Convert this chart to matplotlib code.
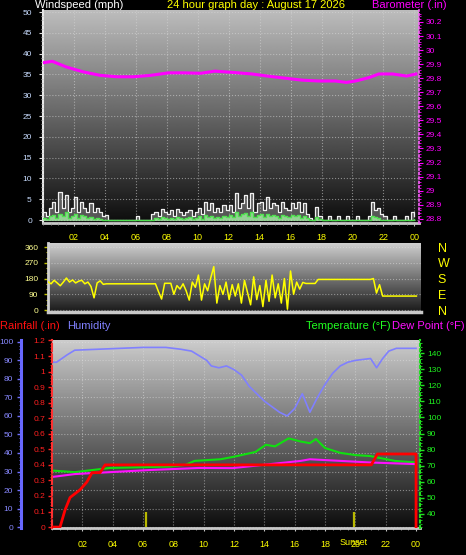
import numpy as np
import matplotlib
matplotlib.use("Agg")
import matplotlib.pyplot as plt

plt.rcParams['font.family'] = ['Liberation Sans', 'DejaVu Sans']

W, H = 466, 555

# ---------------- data ----------------
title_text = "24 hour graph day : August 17 2026"
hour_labels = ['02', '04', '06', '08', '10', '12', '14', '16', '18', '20', '22', '00']
hour_ticks = [2, 4, 6, 8, 10, 12, 14, 16, 18, 20, 22, 24]

sample_step_h = 0.2  # 12-minute samples from 00:00 to 24:00
wind_gust = [2, 1, 3, 4.4, 2, 6.8,
             3, 6, 2, 3, 5.6,
             2, 4.4, 3, 2, 4,
             2, 3, 2, 1, 1.2,
             0, 0, 0, 0, 0,
             0, 0, 0, 0, 1,
             0, 0, 0, 0, 1.5,
             2, 1, 2.7, 2, 1.5,
             2.5, 1, 2.7, 2, 1.2,
             2, 2.5, 1, 2, 3,
             1.5, 4.4, 2.5, 4, 2,
             3, 2, 3.5, 2.5, 3.6,
             2, 6.4, 3, 4, 6,
             3, 6.4, 2, 4, 4.4,
             2.5, 5.6, 3, 4, 3.6,
             2, 4.4, 3, 2.5, 4,
             3, 4.4, 2, 4, 1.5,
             0.6, 0, 3.2, 1, 0,
             0, 1, 0, 0, 1,
             0, 0, 1, 0, 0,
             1, 0, 0, 0, 1,
             4.4, 2.5, 3, 1.5, 1,
             0, 0, 1, 0, 0,
             0, 1, 0, 2, 1]
wind_avg = [0.5, 0.3, 1, 1.2, 0.5, 1.5,
            1, 2, 0.5, 1, 1.5,
            0.5, 1.2, 1, 0.5, 0.8,
            0.3, 0.5, 0.3, 0, 0,
            0, 0, 0, 0, 0,
            0, 0, 0, 0, 0,
            0, 0, 0, 0, 0,
            0.5, 0.3, 0.8, 0.5, 0.3,
            0.6, 0.2, 0.8, 0.5, 0.3,
            0.5, 0.8, 0.2, 0.5, 1,
            0.3, 1.2, 0.8, 1, 0.5,
            0.8, 0.5, 1, 0.7, 1.2,
            0.8, 2, 1, 1.5, 1.8,
            1, 2, 0.8, 1.2, 1.5,
            0.8, 1.5, 1, 1.2, 1,
            0.6, 1.2, 1, 0.8, 1.2,
            1, 1.2, 0.6, 1, 0.5,
            0, 0, 0.8, 0.2, 0,
            0, 0, 0, 0, 0,
            0, 0, 0, 0, 0,
            0, 0, 0, 0, 0,
            1, 0.8, 0.5, 0, 0,
            0, 0, 0, 0, 0,
            0, 0, 0, 0, 0.3]
wind_dir = [162, 150, 170, 155, 139, 160,
            183, 160, 172, 155, 165,
            170, 150, 160, 135, 70,
            155, 167, 147, 150, 150,
            150, 150, 150, 150, 150,
            150, 150, 150, 150, 150,
            150, 150, 150, 150, 150,
            105, 63, 153, 153, 153,
            90, 140, 120, 150, 110,
            57, 160, 130, 200, 57,
            150, 110, 183, 248, 40,
            140, 90, 160, 60, 145,
            80, 150, 40, 170, 100,
            30, 190, 60, 140, 20,
            170, 50, 200, 70, 150,
            40, 180, 5, 223, 90,
            160, 120, 158, 152, 152,
            152, 152, 175, 175, 175,
            175, 175, 175, 175, 175,
            175, 175, 175, 175, 175,
            175, 175, 175, 175, 175,
            180, 97, 145, 80, 80,
            80, 80, 80, 80, 80,
            80, 80, 80, 80, 80]

baro_hours = [0, 0.6, 1.5, 2.6, 3.7, 4.8, 5.85, 6.95, 8.1, 9.1, 10.2, 11.1, 12.4,
              13.5, 14.5, 15.65, 16.75, 17.8, 18.9, 19.6, 20.2, 21.1, 21.7, 22.6, 23.5, 24.1]
baro_vals = [29.91, 29.92, 29.88, 29.845, 29.82, 29.81, 29.81, 29.82, 29.838, 29.838, 29.835,
             29.85, 29.84, 29.83, 29.815, 29.80, 29.786, 29.78, 29.78, 29.77, 29.78, 29.805,
             29.83, 29.83, 29.815, 29.83]

hum_hours = [0, 0.3, 1.0, 1.5, 3, 4.5, 6, 7.5, 8.5, 9.2, 9.8, 10.2, 10.5, 11, 11.5, 12, 12.5,
             13, 13.5, 14, 14.5, 15, 15.5, 16, 16.5, 17, 17.5, 18, 18.5, 19, 19.5, 20, 20.5,
             21, 21.4, 21.8, 22.2, 22.7, 24]
hum_vals = [89, 89, 93, 95.5, 96, 96.5, 97, 97, 96, 95, 92, 90, 87, 86, 87, 85, 82,
            76, 72, 68, 65, 62, 60, 64, 72, 62, 70, 77, 83, 87, 89, 90, 90.5,
            91, 86, 91, 95, 96.5, 96.5]

temp_hours = [0, 1.5, 3.8, 7.8, 8.8, 9.4, 11.1, 11.9, 13.4, 14.1, 14.7, 15.6, 16.4, 17.0,
              17.4, 18.0, 19.0, 20.0, 21.0, 21.5, 22.6, 24]
temp_vals = [67, 66, 68.6, 69.5, 70.5, 73, 74, 75.4, 78.5, 83, 82, 87, 85, 84,
             86.6, 81, 78, 76.6, 76, 75, 73, 72]

dew_hours = [0, 1.5, 3.8, 6.4, 9.7, 11.9, 14.4, 16.4, 17.0, 19.0, 21.0, 24]
dew_vals = [63, 64.8, 66, 67.3, 68.6, 68.5, 71, 73, 74, 73, 72, 71]

rain_hours = [0, 0.53, 0.86, 1.19, 1.85, 2.3, 2.64, 3.17, 3.5, 21.05, 21.45, 24.0, 24.0]
rain_vals = [0, 0, 0.11, 0.19, 0.24, 0.29, 0.35, 0.35, 0.40, 0.40, 0.47, 0.47, 0]

sun_event_hours = [6.2, 19.9]
sun_event_height = 0.1

# ---------------- helpers ----------------
def rect(x0, y0, x1, y1):
    return [x0 / W, 1 - y1 / H, (x1 - x0) / W, (y1 - y0) / H]


def gradient(ax, top, bottom):
    g = np.linspace(top, bottom, 256).reshape(-1, 1)
    ax.imshow(g, cmap='gray', vmin=0, vmax=1, aspect='auto', extent=(0, 1, 0, 1),
              transform=ax.transAxes, origin='upper', zorder=0, interpolation='bilinear')


def ftext(x, y, s, **kw):
    fig.text(x / W, 1 - y / H, s, **kw)


fig = plt.figure(figsize=(W / 100, H / 100), dpi=100, facecolor='black')

n = len(wind_gust)
t = np.arange(n) * sample_step_h

# ---------------- top panel: wind + barometer ----------------
ax1 = fig.add_axes(rect(43, 10, 419, 223))
ax1.set_facecolor('black')
gradient(ax1, 0.74, 0.05)
ax1.fill_between(t, wind_gust, 0, step='post', color='#d8d8d8', alpha=0.35, lw=0, zorder=2)
ax1.plot(t, wind_gust, drawstyle='steps-post', color='#f0f0f0', lw=0.9, zorder=3)
ax1.fill_between(t, wind_avg, -0.3, step='post', color='#a8f0a8', alpha=0.8, lw=0, zorder=4)
ax1.plot(t, wind_avg, drawstyle='steps-post', color='#50e050', lw=1.0, zorder=5)
ax1.set_xlim(0, 24.3)
ax1.set_ylim(-0.72, 50.5)
ax1.set_yticks(np.arange(0, 51, 5))
ax1.set_yticks(np.arange(0, 51, 1), minor=True)
ax1.set_xticks(hour_ticks)
ax1.set_xticklabels(hour_labels)
ax1.set_xticks(np.arange(0, 24.3, 0.5), minor=True)
ax1.tick_params(axis='y', which='major', colors='#e0e0e0', labelcolor='#c8dcff', labelsize=6,
                length=3, width=0.8, pad=5)
ax1.tick_params(axis='y', which='minor', colors='#c0c0c0', length=1.5, width=0.6)
ax1.tick_params(axis='x', which='major', colors='#c0c0c0', labelcolor='#ffff00', labelsize=6.5,
                length=2, width=0.8, pad=5)
ax1.tick_params(axis='x', which='minor', colors='#a0a0a0', length=1.2, width=0.6)
ax1.grid(True, which='major', color='#d8d8d8', ls=':', lw=0.8, alpha=0.55)
ax1.set_axisbelow(False)
for s in ['top']:
    ax1.spines[s].set_visible(False)
ax1.spines['left'].set_color('#e8e8e8')
ax1.spines['left'].set_linewidth(1.5)
ax1.spines['bottom'].set_color('#c8c8c8')
ax1.spines['bottom'].set_linewidth(2)
ax1.spines['right'].set_visible(False)

ax1b = ax1.twinx()
ax1b.plot(baro_hours, baro_vals, color='#ff00ff', lw=2.2, zorder=6)
ax1b.set_ylim(28.77, 30.285)
baro_ticks = np.round(np.arange(28.8, 30.21, 0.1), 1)
ax1b.set_yticks(baro_ticks)
ax1b.set_yticklabels([f'{v:g}' for v in baro_ticks])
ax1b.set_yticks(np.arange(28.78, 30.28, 0.02), minor=True)
ax1b.tick_params(axis='y', which='major', colors='#ff00ff', labelcolor='#ff00ff', labelsize=6,
                 length=3, width=0.8, pad=2)
ax1b.tick_params(axis='y', which='minor', colors='#ff00ff', length=1.2, width=0.6)
ax1b.spines['right'].set_color('#ff60ff')
ax1b.spines['right'].set_linestyle(':')
ax1b.spines['right'].set_linewidth(1.2)
for s in ['top', 'left', 'bottom']:
    ax1b.spines[s].set_visible(False)

ftext(35, 5.5, 'Windspeed (mph)', color='white', fontsize=8, va='center', ha='left')
ftext(256, 5.5, title_text, color='#ffff00', fontsize=8, va='center', ha='center')
ftext(372, 5.5, 'Barometer (.in)', color='#ff00ff', fontsize=8, va='center', ha='left')

# ---------------- middle panel: wind direction ----------------
ax2 = fig.add_axes(rect(48, 243, 421, 312))
ax2.set_facecolor('black')
gradient(ax2, 0.82, 0.1)
ax2.plot(t, wind_dir, color='#ffff00', lw=1.1, zorder=3)
ax2.set_xlim(0, 24.3)
ax2.set_ylim(-11, 383)
ax2.set_yticks([0, 90, 180, 270, 360])
ax2.set_yticks(np.arange(0, 361, 30), minor=True)
ax2.set_xticks([])
ax2.tick_params(axis='y', which='major', colors='#c0c000', labelcolor='#ffff90', labelsize=6,
                length=3, width=1, pad=4)
ax2.tick_params(axis='y', which='minor', colors='#c0c000', length=1.5, width=0.8)
ax2.grid(True, axis='y', color='#e0e0e0', ls=':', lw=0.8, alpha=0.5)
ax2.spines['top'].set_visible(False)
ax2.spines['right'].set_visible(False)
ax2.spines['left'].set_color('#d0d0d0')
ax2.spines['left'].set_linewidth(2)
ax2.spines['bottom'].set_color('#c8c8c8')
ax2.spines['bottom'].set_linewidth(2.5)

ax2b = ax2.twinx()
ax2b.set_ylim(-11, 383)
ax2b.set_yticks([360, 270, 180, 90, 0])
ax2b.set_yticklabels(['N', 'W', 'S', 'E', 'N'])
ax2b.tick_params(axis='y', length=0, labelcolor='#ffff00', labelsize=9, pad=12)
for s in ax2b.spines.values():
    s.set_visible(False)

# ---------------- bottom panel: rain / humidity / temp / dew ----------------
ax3 = fig.add_axes(rect(52, 340, 420, 528))
ax3.set_facecolor('black')
gradient(ax3, 0.8, 0.05)
ax3.plot(hum_hours, hum_vals, color='#8080ff', lw=1.2, zorder=3)
ax3.set_xlim(0, 24.26)
ax3.set_ylim(-0.5, 101)
ax3.set_yticks(np.arange(0, 101, 10))
ax3.set_yticks(np.arange(0, 101, 2), minor=True)
ax3.set_xticks(hour_ticks)
ax3.set_xticklabels(hour_labels)
ax3.set_xticks(np.arange(0, 24.3, 0.5), minor=True)
ax3.tick_params(axis='y', which='major', colors='#7070ff', labelcolor='#8888ff', labelsize=6,
                length=3, width=1, pad=3)
ax3.tick_params(axis='y', which='minor', colors='#7070ff', length=1.5, width=0.6)
ax3.tick_params(axis='x', which='major', colors='#c0c0c0', labelcolor='#ffff00', labelsize=6.5,
                length=2, width=0.8, pad=6.5)
ax3.tick_params(axis='x', which='minor', colors='#a0a0a0', length=1.2, width=0.6)
ax3.grid(True, which='major', color='#e0e0e0', ls=':', lw=0.8, alpha=0.5)
ax3.spines['left'].set_position(('outward', 22))
ax3.spines['left'].set_color('#6868ff')
ax3.spines['left'].set_linewidth(2.2)
ax3.spines['top'].set_visible(False)
ax3.spines['right'].set_visible(False)
ax3.spines['bottom'].set_color('#c8c8c8')
ax3.spines['bottom'].set_linewidth(2)

ax3t = ax3.twinx()
ax3t.plot(temp_hours, temp_vals, color='#10e010', lw=1.5, zorder=4)
ax3t.plot(dew_hours, dew_vals, color='#ff10ff', lw=1.5, zorder=5)
ax3t.set_ylim(31.3, 148.1)
ax3t.set_yticks(np.arange(40, 141, 10))
ax3t.set_yticks(np.arange(32, 148, 2), minor=True)
ax3t.tick_params(axis='y', which='major', colors='#20e020', labelcolor='#20f020', labelsize=6,
                 length=3, width=1, pad=2)
ax3t.tick_params(axis='y', which='minor', colors='#20e020', length=1.2, width=0.6)
ax3t.spines['right'].set_color('#20e020')
ax3t.spines['right'].set_linestyle(':')
ax3t.spines['right'].set_linewidth(1.5)
for s in ['top', 'left', 'bottom']:
    ax3t.spines[s].set_visible(False)

ax3r = ax3.twinx()
ax3r.yaxis.set_ticks_position('left')
ax3r.plot(rain_hours, rain_vals, color='#ff0000', lw=2, zorder=6)
ax3r.vlines(sun_event_hours, 0, sun_event_height, color='#b8b800', lw=1.6, zorder=5)
ax3r.set_ylim(-0.006, 1.203)
rain_ticks = np.round(np.arange(0, 1.21, 0.1), 1)
ax3r.set_yticks(rain_ticks)
ax3r.set_yticklabels([f'{v:g}' for v in rain_ticks])
ax3r.set_yticks(np.arange(0, 1.2, 0.02), minor=True)
ax3r.tick_params(axis='y', which='major', colors='#ff2020', labelcolor='#ff2020', labelsize=6,
                 length=3, width=1, pad=2, left=True, right=False, labelleft=True, labelright=False)
ax3r.tick_params(axis='y', which='minor', colors='#ff2020', length=1.2, width=0.6,
                 left=True, right=False)
ax3r.spines['left'].set_visible(True)
ax3r.spines['left'].set_color('#ff3030')
ax3r.spines['left'].set_linestyle('--')
ax3r.spines['left'].set_linewidth(1.5)
for s in ['top', 'right', 'bottom']:
    ax3r.spines[s].set_visible(False)

ax3.text(sun_event_hours[1], -0.075, 'Sunset', transform=ax3.get_xaxis_transform(),
         color='#ffff00', fontsize=6.5, ha='center', va='center')

ftext(0, 326, 'Rainfall (.in)', color='#ff1010', fontsize=8, va='center', ha='left')
ftext(67, 326, 'Humidity', color='#8080ff', fontsize=8, va='center', ha='left')
ftext(391, 326, 'Temperature (°F)', color='#20ff20', fontsize=8, va='center', ha='right')
ftext(392, 326, 'Dew Point (°F)', color='#ff10ff', fontsize=8, va='center', ha='left')

fig.savefig('out.png', dpi=100, facecolor='black')
